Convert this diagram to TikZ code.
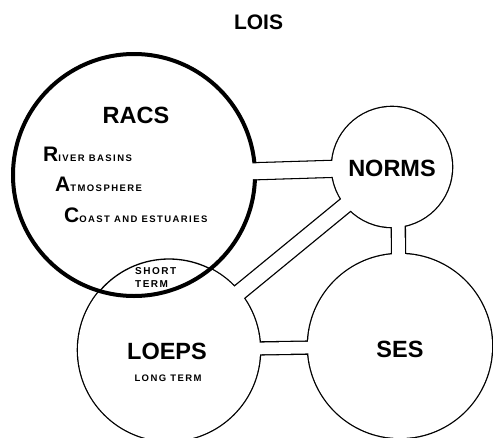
\documentclass[tikz,border=0pt]{standalone}
\usepackage{fontspec}
\setmainfont{Liberation Sans}
\newfontfamily\spaced{Liberation Sans}[LetterSpace=15]
\newcommand{\fsz}[1]{\fontsize{#1}{#1}\selectfont}
\begin{document}
\begin{tikzpicture}[x=1pt,y=-1pt,
  ring/.style={circle, inner sep=0pt, outer sep=0pt, draw=black, line width=2.6pt},
  lbl/.style={inner sep=0pt},
  big/.style={lbl, font={\bfseries\fsz{23.5}}},
]
\useasboundingbox (0,0) rectangle (493,437);
% ---- pass 1: black outlines of the union
\node[ring, minimum size=242pt] (racs) at (134,175) {};
\node[ring, minimum size=120pt] (norms) at (392,167) {};
\node[ring, minimum size=182pt] (loeps) at (169,350) {};
\node[ring, minimum size=184pt] (ses) at (400,346) {};
\draw[line width=18.3pt] (racs.center) -- (norms.center);
\draw[line width=15.3pt] ([xshift=6pt]norms.center) -- ([xshift=-1pt]ses.center);
\draw[line width=14.3pt] (loeps.center) -- (ses.center);
\draw[line width=17.3pt] (norms.center) -- (loeps.center);
% ---- pass 2: white interiors
\fill[white] (racs.center) circle[radius=121];
\fill[white] (norms.center) circle[radius=60];
\fill[white] (loeps.center) circle[radius=91];
\fill[white] (ses.center) circle[radius=92];
\draw[white, line width=15.7pt] (racs.center) -- (norms.center);
\draw[white, line width=12.7pt] ([xshift=6pt]norms.center) -- ([xshift=-1pt]ses.center);
\draw[white, line width=11.7pt] (loeps.center) -- (ses.center);
\draw[white, line width=14.7pt] (norms.center) -- (loeps.center);
% ---- LOEPS arc inside RACS
\begin{scope}
  \clip (racs.center) circle[radius=121];
  \draw[line width=1.3pt] (loeps.center) circle[radius=91];
\end{scope}
% ---- RACS thick ring, open at the pipe mouth
\draw[line width=4pt] (racs.center) circle[radius=121];
\draw[white, line width=15.7pt] (racs.center) -- (norms.center);
% ---- texts
\node[lbl, font={\bfseries\fsz{21}}] (lois) at (258.5,22) {LOIS};
\node[big] (racst) at (136,115) {RACS};
\node[lbl, anchor=base west, font=\bfseries] (rb) at (43,161) {{\fsz{21}R}{\spaced\fsz{9.5}IVER BASINS}};
\node[lbl, anchor=base west, font=\bfseries] (at) at (55,191) {{\fsz{21}A}{\spaced\fsz{9.5}TMOSPHERE}};
\node[lbl, anchor=base west, font=\bfseries] (ce) at (64,222) {{\fsz{21}C}{\spaced\fsz{9.5}OAST AND ESTUARIES}};
\node[lbl, anchor=base west, font={\bfseries\spaced\fsz{10}}] (short) at (135,274) {SHORT};
\node[lbl, anchor=base west, font={\bfseries\spaced\fsz{10}}] (term) at (135,287) {TERM};
\node[big] (normst) at (392,168) {NORMS};
\node[big] (loepst) at (167,351) {LOEPS};
\node[lbl, font={\bfseries\spaced\fsz{9.5}}] (long) at (168,378) {LONG TERM};
\node[big] (sest) at (400,349) {SES};
\end{tikzpicture}
\end{document}
